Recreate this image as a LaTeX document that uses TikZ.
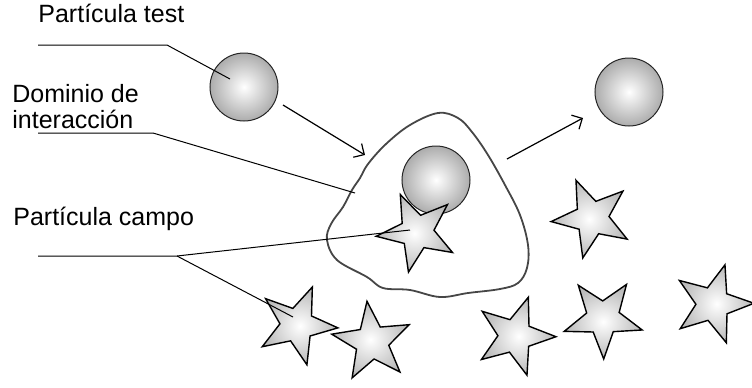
\documentclass[tikz,border=0pt]{standalone}
\usepackage{fontspec}
\setmainfont{Liberation Sans}
\usepackage{tikz}
\usetikzlibrary{shapes.geometric, arrows.meta, calc}
\tikzset{
	labeltext/.style={font=\fontsize{12.5}{13}\selectfont, inner sep=0pt, anchor=base west, align=left}
}
\tikzset{
	ballnode/.style={circle, draw=gray!30!black, line width=0.5pt, minimum size=34pt, inner sep=0pt,
		inner color=white, outer color=gray!65},
	starnode/.style={star, star points=5, star point ratio=2.4, minimum size=41pt, inner sep=0pt,
		draw=black, line width=0.7pt, inner color=white, outer color=gray!55},
	leadline/.style={draw=black, line width=0.5pt},
	movearrow/.style={draw=black, line width=0.6pt, -{Straight Barb[length=4pt,width=8pt]}}
}

\begin{document}
\begin{tikzpicture}[x=0.5pt, y=-0.5pt]
      \useasboundingbox (0,0) rectangle (752,387);
      % labels
      \node[labeltext] (ltest) at (38,22) {Partícula test};
      \node[labeltext] (ldom) at (12,128) {Dominio de\\interacción};
      \node[labeltext] (lcampo) at (13,225) {Partícula campo};
      % interaction domain
      \draw[gray!55!black, line width=0.9pt] plot[smooth cycle, tension=0.6] coordinates {
        (438,113) (458,118) (472,132) (488,155) (505,185) (520,215) (528,245) (527,268)
        (518,283) (500,289) (468,293) (440,297) (410,290) (383,288) (367,277) (337,260)
        (327,240) (331,224) (343,207) (352,190) (360,178) (368,164) (386,144) (410,125)};
      % particles
      \node[ballnode] (btest) at (244,87) {};
      \node[ballnode] (bdom) at (436,180) {};
      \node[ballnode] (bout) at (629,92) {};
      \foreach \n/\x/\y/\r in {dom/417/232/-48, e/297/325/-22, f/372/342/7, a/592/218/-49,
                               b/515/336/-19, c/603/318/-35, d/713/304/-17}
        \node[starnode, rotate=\r] (s\n) at (\x,\y) {};
      % leader lines
      \coordinate (ktest) at (167,45);
      \coordinate (kdom) at (153,133);
      \coordinate (kcampo) at (177,256);
      \draw[leadline] (38,45) -- (ktest) -- ($(btest.center)+(-14,-8)$);
      \draw[leadline] (38,133) -- (kdom) -- (355,193);
      \draw[leadline] (38,256) -- (kcampo) -- ($(sdom.center)+(-7,-2)$);
      \draw[leadline] (kcampo) -- ($(se.center)+(-4,-8)$);
      % motion
      \coordinate (ain) at (365,155);
      \coordinate (aout) at (507,159);
      \draw[movearrow] (283,105) -- (ain);
      \draw[movearrow] (aout) -- (583,118);
\end{tikzpicture}
\end{document}
